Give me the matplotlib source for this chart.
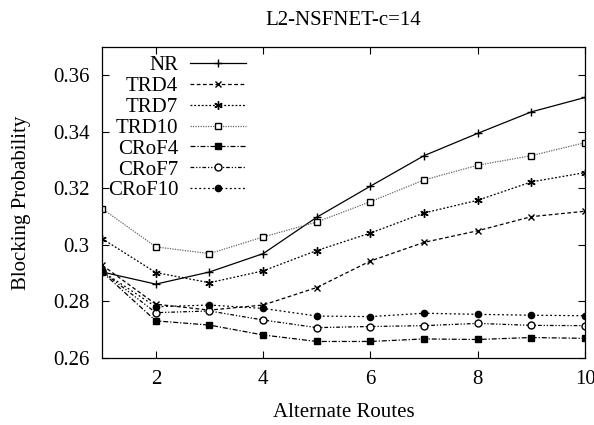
import matplotlib
matplotlib.use('Agg')
import matplotlib.pyplot as plt
from matplotlib import rcParams

rcParams['font.family'] = 'serif'
rcParams['font.serif'] = ['Liberation Serif']

routes = [1, 2, 3, 4, 5, 6, 7, 8, 9, 10]
NR = [0.2904, 0.2861, 0.2904, 0.2969, 0.3098, 0.3208, 0.3316, 0.3395, 0.3471, 0.3522]
TRD4 = [0.2928, 0.2790, 0.2769, 0.2787, 0.2849, 0.2943, 0.3009, 0.3050, 0.3100, 0.3119]
TRD7 = [0.3022, 0.2902, 0.2866, 0.2908, 0.2980, 0.3042, 0.3113, 0.3158, 0.3223, 0.3256]
TRD10 = [0.3128, 0.2993, 0.2969, 0.3028, 0.3081, 0.3153, 0.3230, 0.3282, 0.3316, 0.3362]
CRoF4 = [0.2904, 0.2731, 0.2716, 0.2681, 0.2658, 0.2658, 0.2667, 0.2665, 0.2672, 0.2669]
CRoF7 = [0.2906, 0.2760, 0.2766, 0.2734, 0.2707, 0.2711, 0.2714, 0.2722, 0.2715, 0.2714]
CRoF10 = [0.2906, 0.2781, 0.2787, 0.2775, 0.2748, 0.2746, 0.2758, 0.2754, 0.2751, 0.2749]

fig = plt.figure(figsize=(5.94, 4.25), dpi=100)
ax = fig.add_axes([0.172, 0.158, 0.813, 0.731])

lw = 0.9
ms = 6
ax.plot(routes, NR, color='black', linestyle='-', marker='+', markersize=ms, linewidth=lw, label='NR')
ax.plot(routes, TRD4, color='black', linestyle=(0, (3, 2)), marker='x', markersize=5, linewidth=lw, label='TRD4')
ax.plot(routes, TRD7, color='black', linestyle=(0, (1.5, 1.5)), marker=(6, 2, 0), markersize=ms, linewidth=lw, label='TRD7')
ax.plot(routes, TRD10, color='#666666', linestyle=(0, (1, 1)), marker='s', markerfacecolor='white',
        markeredgecolor='black', markersize=5, linewidth=lw, label='TRD10')
ax.plot(routes, CRoF4, color='black', linestyle=(0, (4, 1.5, 1, 1.5)), marker='s', markersize=5, linewidth=lw, label='CRoF4')
ax.plot(routes, CRoF7, color='black', linestyle=(0, (3, 1.5, 1, 1.5, 1, 1.5)), marker='o', markerfacecolor='white',
        markeredgecolor='black', markersize=5, linewidth=lw, label='CRoF7')
ax.plot(routes, CRoF10, color='black', linestyle=(0, (1.5, 2)), marker='o', markersize=4.5, linewidth=lw, label='CRoF10')

ax.set_xlim(1, 10)
ax.set_ylim(0.26, 0.37)
ax.set_xticks([2, 4, 6, 8, 10])
ax.set_yticks([0.26, 0.28, 0.30, 0.32, 0.34, 0.36])
ax.set_yticklabels(['0.26', '0.28', '0.3', '0.32', '0.34', '0.36'])
ax.tick_params(direction='in', top=True, right=True, length=5, width=0.8, labelsize=15, pad=9)
for sp in ax.spines.values():
    sp.set_linewidth(0.9)

ax.set_xlabel('Alternate Routes', fontsize=15, labelpad=10)
ax.set_ylabel('Blocking Probability', fontsize=15, labelpad=16)
ax.set_title('L2-NSFNET-c=14', fontsize=15, pad=16)

leg = ax.legend(loc='upper right', bbox_to_anchor=(0.298, 0.972), frameon=False, markerfirst=False,
                fontsize=15, handlelength=2.7, handletextpad=0.55, labelspacing=0.06,
                borderaxespad=0, borderpad=0)

fig.savefig('out.png', dpi=100)
